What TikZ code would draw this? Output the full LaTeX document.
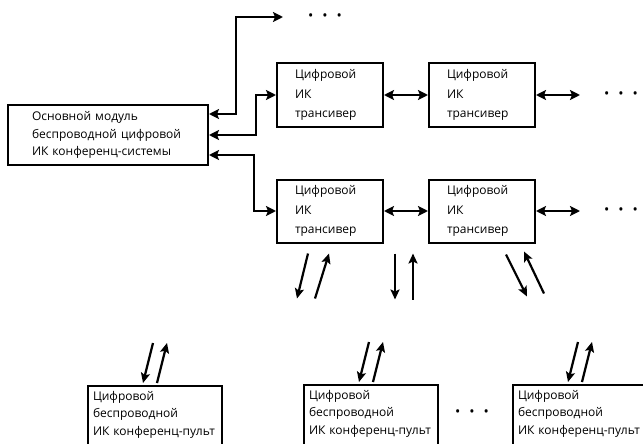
\documentclass[tikz,border=0pt]{standalone}
\usepackage{fontspec}
\setmainfont{Open Sans}
\usepackage{tikz}
\usetikzlibrary{calc}
\usetikzlibrary{arrows.meta}

\begin{document}
\begin{tikzpicture}[x=1pt,y=-1pt,
    box/.style={draw,line width=2pt,align=left,font=\fontsize{12}{17.5}\selectfont},
    mainbox/.style={box,minimum width=200pt,minimum height=60pt,text width=152pt},
    trbox/.style={box,minimum width=106pt,minimum height=63pt,text width=70pt,
      font=\fontsize{12}{19.5}\selectfont},
    pult/.style={box,anchor=north,inner xsep=5pt,inner ysep=5pt,text width=124pt},
    link/.style={draw,line width=2.2pt,{Stealth[length=10pt,width=10pt,inset=2pt]}-{Stealth[length=10pt,width=10pt,inset=2pt]}},
    ray/.style={line width=2.2pt,-{Stealth[length=10pt,width=9pt,inset=2pt]}},
    dots/.style={font=\fontsize{14}{14}\selectfont}]
  \path[use as bounding box,clip] (0,0) rectangle (643,444);

  \node[mainbox] (main) at (108,135) {Основной модуль\\беспроводной цифровой\\ИК конференц-системы};
  \node[trbox] (t1) at (330,95) {Цифровой\\ИК\\трансивер};
  \node[trbox] (t2) at (482,95) {Цифровой\\ИК\\трансивер};
  \node[trbox] (t3) at (330,211) {Цифровой\\ИК\\трансивер};
  \node[trbox] (t4) at (482,211) {Цифровой\\ИК\\трансивер};
  \node[pult] (p1) at (155,385) {Цифровой\\беспроводной\\ИК конференц-пульт\\\mbox{}};
  \node[pult] (p2) at (371,384) {Цифровой\\беспроводной\\ИК конференц-пульт\\\mbox{}};
  \node[pult] (p3) at (580,384) {Цифровой\\беспроводной\\ИК конференц-пульт\\\mbox{}};

  % continuation marks
  \node[dots] (d0) at (325,17) {\textbullet\hspace{9pt}\textbullet\hspace{9pt}\textbullet};
  \node[dots] (d1) at (621,95) {\textbullet\hspace{9pt}\textbullet\hspace{9pt}\textbullet};
  \node[dots] (d2) at (621,211) {\textbullet\hspace{9pt}\textbullet\hspace{9pt}\textbullet};
  \node[dots] (d3) at (472,413) {\textbullet\hspace{9pt}\textbullet\hspace{9pt}\textbullet};
  \coordinate (e0) at (283,17);
  \coordinate (e1) at (580,95);
  \coordinate (e2) at (580,211);

  % wired links
  \draw[link] ($(main.east)+(0,-21)$) -- ++(27,0) |- (e0);
  \draw[link] (main.east) -- ++(47,0) |- (t1.west);
  \draw[link] ($(main.east)+(0,20)$) -- ++(45,0) |- (t3.west);
  \path[link]
    (t1) edge (t2)
    (t2) edge (e1)
    (t3) edge (t4)
    (t4) edge (e2);

  % IR links
  \draw[ray] ($(t3.south)+(-22,10)$) -- ($(t3.south)+(-33,55)$);
  \draw[ray] ($(t3.south)+(-15,55)$) -- ($(t3.south)+(-1,10)$);
  \draw[ray] ($(t3.south east)+(11,10)$) -- ($(t3.south east)+(11,56)$);
  \draw[ray] ($(t3.south east)+(29,56)$) -- ($(t3.south east)+(29,10)$);
  \draw[ray] ($(t4.south)+(24,11)$) -- ($(t4.south)+(45,53)$);
  \draw[ray] ($(t4.south)+(62,50)$) -- ($(t4.south)+(42,8)$);
  \foreach \n in {p1,p2,p3} {
    \draw[ray] ($(\n.north)+(-2,-42)$) -- ($(\n.north)+(-12,-2)$);
    \draw[ray] ($(\n.north)+(2,-2)$) -- ($(\n.north)+(12,-42)$);
  }
\end{tikzpicture}
\end{document}
